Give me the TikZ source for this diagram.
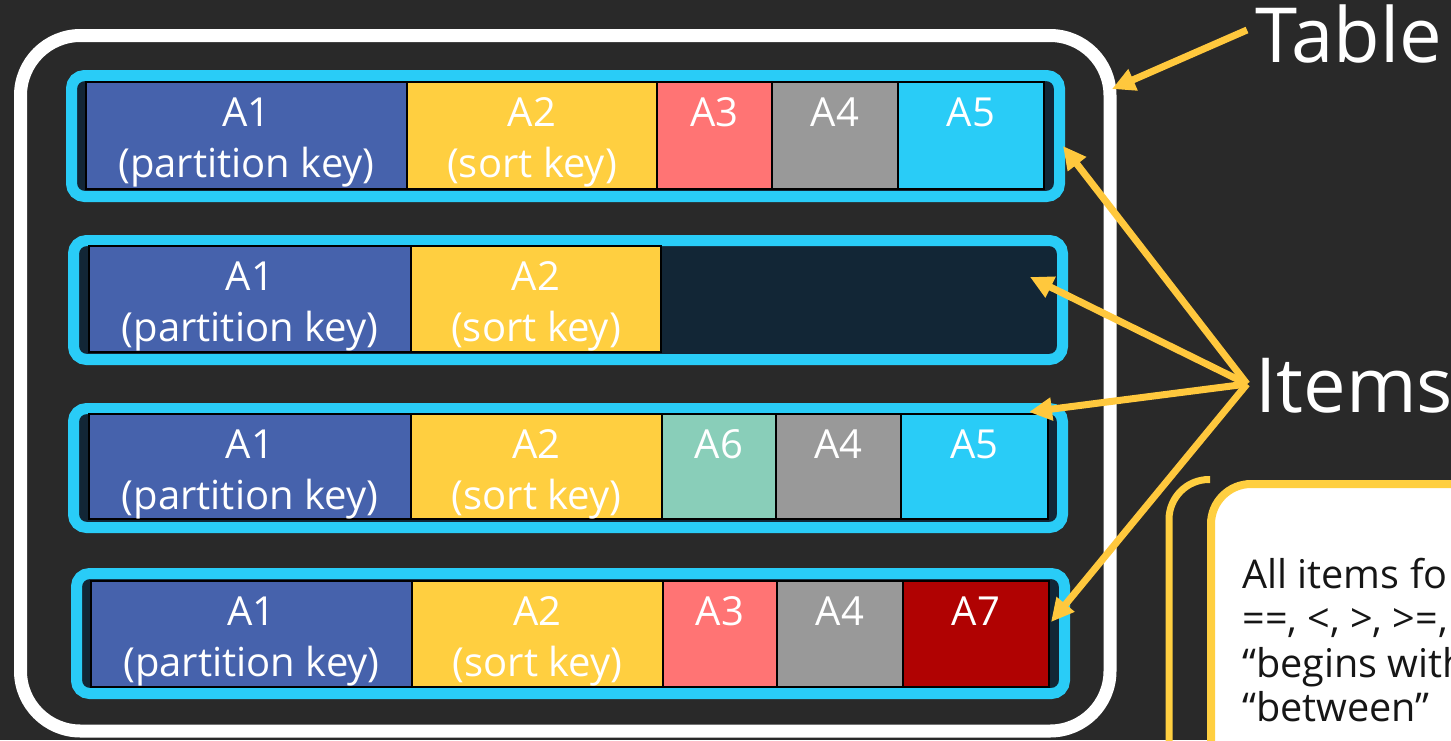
\documentclass[tikz,border=0pt]{standalone}
\usepackage{fontspec}
\setmainfont{Open Sans}
\usetikzlibrary{arrows.meta}

\definecolor{slate}{RGB}{41,41,41}
\definecolor{itemcyan}{RGB}{41,204,247}
\definecolor{itemnavy}{RGB}{18,38,54}
\definecolor{keyblue}{RGB}{70,98,172}
\definecolor{keyyellow}{RGB}{255,207,64}
\definecolor{attrsalmon}{RGB}{255,116,116}
\definecolor{attrgray}{RGB}{153,153,153}
\definecolor{attrmint}{RGB}{137,206,185}
\definecolor{attrred}{RGB}{176,2,2}
\definecolor{pointeryellow}{RGB}{255,200,61}
\definecolor{inkblack}{RGB}{22,22,22}

% one attribute cell: name, x1, x2, y1, y2, fill colour
\newcommand\attrcell[6]{%
  \node[cellbox, fill=#6, minimum width={(#3-#2)*0.5pt}, minimum height={(#5-#4)*0.5pt}]
    (#1) at ({(#2+#3)/2},{(#4+#5)/2}) {};}

\begin{document}
\begin{tikzpicture}[x=0.5pt,y=-0.5pt,
  tableframe/.style={draw=white, line width=6.5pt, rounded corners=30pt, inner sep=0pt, outer sep=0pt},
  itemframe/.style={draw=itemcyan, fill=itemnavy, line width=5.5pt, rounded corners=6.5pt, inner sep=0pt, outer sep=0pt},
  cellbox/.style={draw=black, line width=1pt, inner sep=0pt, outer sep=0pt},
  celltext/.style={text=white, anchor=base, inner sep=0pt, font=\fontsize{20pt}{24pt}\selectfont},
  bigword/.style={text=white, anchor=base west, inner sep=0pt, font=\fontsize{38pt}{44pt}\selectfont},
  cardtext/.style={text=inkblack, anchor=base west, inner sep=0pt, font=\fontsize{19.8pt}{24pt}\selectfont},
  pointer/.style={draw=pointeryellow, line width=3.5pt, -{Triangle[length=11.5pt,width=11pt]}},
  cardedge/.style={draw=keyyellow, line width=4pt}
]
\useasboundingbox (0,0) rectangle (1451,740);
\fill[slate] (0,0) rectangle (1451,740);
\clip (0,0) rectangle (1451,740);

% the table
\node[tableframe, minimum width=544.75pt, minimum height=347.75pt] (table) at (565.25,383.25) {};

% item frames
\node[itemframe, minimum width=494pt, minimum height=60.5pt] (item1) at (565.5,136) {};
\node[itemframe, minimum width=494.5pt, minimum height=59.5pt] (item2) at (568,300) {};
\node[itemframe, minimum width=494.5pt, minimum height=59.5pt] (item3) at (568,468) {};
\node[itemframe, minimum width=494pt, minimum height=60pt] (item4) at (570.5,633.5) {};

% item 1
\attrcell{r1a1}{86}{407}{82}{189}{keyblue}
\attrcell{r1a2}{407}{657}{82}{189}{keyyellow}
\attrcell{r1a3}{657}{772}{82}{189}{attrsalmon}
\attrcell{r1a4}{772}{898}{82}{189}{attrgray}
\attrcell{r1a5}{898}{1044}{82}{189}{itemcyan}
\node[celltext] (r1a1t) at (246.5,126) {A1};
\node[celltext] (r1a1k) at (246.5,177) {(partition key)};
\node[celltext] (r1a2t) at (532,126) {A2};
\node[celltext] (r1a2k) at (532,177) {(sort key)};
\node[celltext] (r1a3t) at (714.5,126) {A3};
\node[celltext] (r1a4t) at (835,126) {A4};
\node[celltext] (r1a5t) at (971,126) {A5};

% item 2
\attrcell{r2a1}{89}{411}{246}{352}{keyblue}
\attrcell{r2a2}{411}{661}{246}{352}{keyyellow}
\node[celltext] (r2a1t) at (250,290) {A1};
\node[celltext] (r2a1k) at (250,341) {(partition key)};
\node[celltext] (r2a2t) at (536,290) {A2};
\node[celltext] (r2a2k) at (536,341) {(sort key)};

% item 3
\attrcell{r3a1}{89}{411}{414}{519}{keyblue}
\attrcell{r3a2}{411}{662}{414}{519}{keyyellow}
\attrcell{r3a6}{662}{776}{414}{519}{attrmint}
\attrcell{r3a4}{776}{901}{414}{519}{attrgray}
\attrcell{r3a5}{901}{1048}{414}{519}{itemcyan}
\node[celltext] (r3a1t) at (250,458) {A1};
\node[celltext] (r3a1k) at (250,509) {(partition key)};
\node[celltext] (r3a2t) at (536.5,458) {A2};
\node[celltext] (r3a2k) at (536.5,509) {(sort key)};
\node[celltext] (r3a6t) at (719,458) {A6};
\node[celltext] (r3a4t) at (838.5,458) {A4};
\node[celltext] (r3a5t) at (974.5,458) {A5};

% item 4
\attrcell{r4a1}{91}{412}{581}{687}{keyblue}
\attrcell{r4a2}{412}{663}{581}{687}{keyyellow}
\attrcell{r4a3}{663}{777}{581}{687}{attrsalmon}
\attrcell{r4a4}{777}{903}{581}{687}{attrgray}
\attrcell{r4a7}{903}{1049}{581}{687}{attrred}
\node[celltext] (r4a1t) at (251.5,625) {A1};
\node[celltext] (r4a1k) at (251.5,676) {(partition key)};
\node[celltext] (r4a2t) at (537.5,625) {A2};
\node[celltext] (r4a2k) at (537.5,676) {(sort key)};
\node[celltext] (r4a3t) at (720,625) {A3};
\node[celltext] (r4a4t) at (840,625) {A4};
\node[celltext] (r4a7t) at (976,625) {A7};

% captions
\node[bigword] (tablelabel) at (1255,62) {Table};
\node[bigword] (itemslabel) at (1255,412) {Items};

% pointers
\coordinate (tablesrc) at (1247,30);
\coordinate (tabletip) at (1112,89);
\draw[pointer] (tablesrc) -- (tabletip);

\coordinate (itemsrc) at (1247,384);
\coordinate (tip1) at (1063,146);
\coordinate (tip2) at (1030,277);
\coordinate (tip3) at (1029,412);
\coordinate (tip4) at (1051,622);
\draw[pointer] (itemsrc) -- (tip1);
\draw[pointer] (itemsrc) -- (tip2);
\draw[pointer] (itemsrc) -- (tip3);
\draw[pointer] (itemsrc) -- (tip4);

% query note card
\draw[cardedge, line width=3.5pt, rounded corners=20pt] (1169,760) -- (1169,479.5) -- (1210,479.5);
\path[cardedge, fill=white, rounded corners=20pt] (1211,484) rectangle (1560,800);
\node[cardtext] (note1) at (1242,588) {All items fo};
\node[cardtext] (note2) at (1242,632) {==, <, >, >=,};
\node[cardtext] (note3) at (1242,677) {“begins with};
\node[cardtext] (note4) at (1242,721) {“between”};
\end{tikzpicture}
\end{document}
